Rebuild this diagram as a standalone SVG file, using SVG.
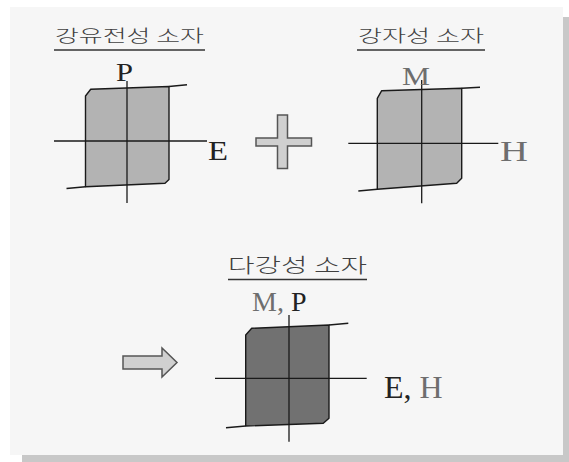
<svg xmlns="http://www.w3.org/2000/svg" width="569" height="462" viewBox="0 0 569 462">
<style>
.kr{font-family:"Noto Sans CJK KR","Noto Sans",sans-serif;fill:#404040;font-weight:300;}
.lat{font-family:"Liberation Serif","Times New Roman",serif;}
.dk{fill:#222;}
.gr{fill:#6e6e6e;}
.ul{stroke:#333;stroke-width:1.5;}
.ax{stroke:#1a1a1a;stroke-width:1.3;fill:none;}
.loopL{fill:#b3b3b3;stroke:#1a1a1a;stroke-width:1.4;stroke-linejoin:round;}
.loopD{fill:#717171;stroke:#1a1a1a;stroke-width:1.4;stroke-linejoin:round;}
.ext{stroke:#1a1a1a;stroke-width:1.4;}
.sym{fill:#d0d0d0;stroke:#555;stroke-width:1.5;}
</style>
<rect x="0" y="0" width="569" height="462" fill="#ffffff"/>
<rect x="22" y="17" width="547" height="445" fill="#c8c8c8"/>
<rect x="10" y="7" width="553" height="448" fill="#f6f6f6"/>

<g id="ferroelectric">
<text class="kr" x="55" y="42" font-size="17" textLength="149" lengthAdjust="spacingAndGlyphs">강유전성 소자</text>
<line class="ul" x1="54" y1="50" x2="205" y2="50"/>
<path class="loopL" d="M85.5,186.7 L85.5,96 L90.7,89.3 L169,86.5 L169,179.5 L165,183.3 Z"/>
<line class="ext" x1="169" y1="86.5" x2="187" y2="84.8"/>
<line class="ext" x1="85.5" y1="186.7" x2="66.5" y2="188.5"/>
<line class="ax" x1="54" y1="141" x2="207" y2="141"/>
<line class="ax" x1="127" y1="81" x2="127" y2="203"/>
<text class="lat dk" x="116" y="80.5" font-size="26" textLength="17" lengthAdjust="spacingAndGlyphs">P</text>
<text class="lat dk" x="208" y="160" font-size="27" textLength="20" lengthAdjust="spacingAndGlyphs">E</text>
</g>

<g id="plus">
<path class="sym" d="M277.5,115 H287.5 V138 H311.5 V146 H287.5 V168.5 H277.5 V146 H256 V138 H277.5 Z"/>
</g>

<g id="ferromagnetic">
<text class="kr" x="358" y="42" font-size="17" textLength="126" lengthAdjust="spacingAndGlyphs">강자성 소자</text>
<line class="ul" x1="357" y1="50" x2="485" y2="50"/>
<path class="loopL" d="M377.3,189.3 L377.3,98.3 L381.7,90.7 L461.7,88.3 L461.7,178.3 L456.7,183.3 Z"/>
<line class="ext" x1="461.7" y1="88.3" x2="480" y2="87.3"/>
<line class="ext" x1="377.3" y1="189.3" x2="358.3" y2="191"/>
<line class="ax" x1="348.3" y1="143.3" x2="498.3" y2="143.3"/>
<line class="ax" x1="421.7" y1="80" x2="421.7" y2="203.3"/>
<text class="lat gr" x="402" y="85" font-size="26" textLength="28" lengthAdjust="spacingAndGlyphs">M</text>
<text class="lat gr" x="500" y="160.5" font-size="29" textLength="28" lengthAdjust="spacingAndGlyphs">H</text>
</g>

<g id="arrow">
<path class="sym" d="M123,356 H162 V348 L177,362.5 L162,377 V369 H123 Z"/>
</g>

<g id="multiferroic">
<text class="kr" x="228" y="273" font-size="20" textLength="139" lengthAdjust="spacingAndGlyphs">다강성 소자</text>
<line class="ul" x1="228" y1="279.5" x2="367" y2="279.5"/>
<path class="loopD" d="M245.7,426 L245.7,335 L251.7,328.3 L329,325 L329,418.3 L323.3,423.3 Z"/>
<line class="ext" x1="329" y1="325" x2="348.3" y2="323.3"/>
<line class="ext" x1="245.7" y1="426" x2="226" y2="427.7"/>
<line class="ax" x1="215" y1="378.3" x2="366.7" y2="378.3"/>
<line class="ax" x1="289" y1="315" x2="289" y2="441.7"/>
<text class="lat" x="252" y="311" font-size="28"><tspan class="gr">M,</tspan><tspan class="dk"> P</tspan></text>
<text class="lat" x="384" y="398" font-size="32"><tspan class="dk">E,</tspan><tspan class="gr"> H</tspan></text>
</g>
</svg>
